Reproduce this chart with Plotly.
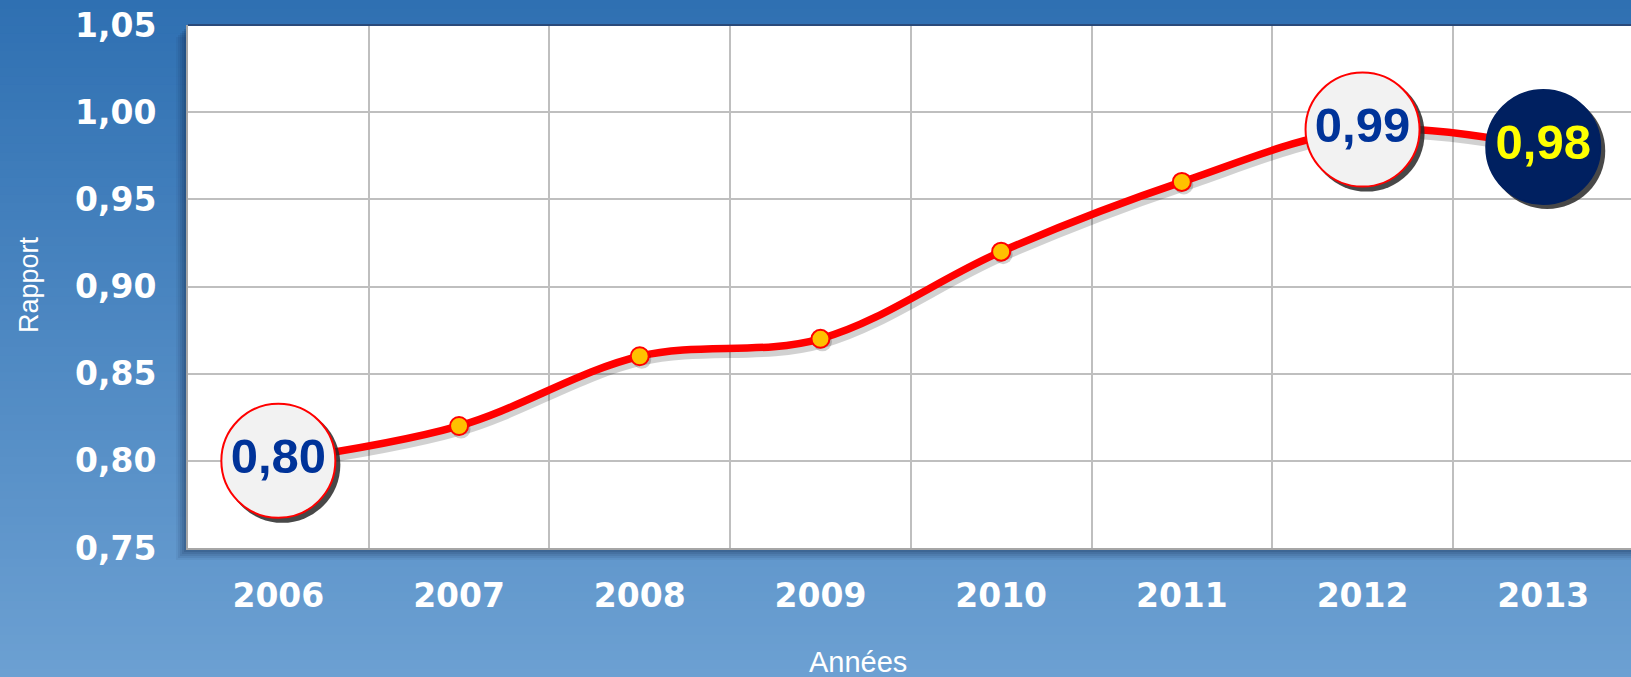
import plotly.graph_objects as go

years = ["2006", "2007", "2008", "2009", "2010", "2011", "2012", "2013"]
ratio = [0.80, 0.82, 0.86, 0.87, 0.92, 0.96, 0.99, 0.98]
bubble_idx = [0, 6, 7]          # points shown with a big value bubble
y_ticks = [0.75, 0.80, 0.85, 0.90, 0.95, 1.00, 1.05]

W, H = 1631, 677
ML, MR, MT, MB = 188, 0, 25, 129
PW, PH = W - ML - MR, H - MT - MB
CAT_W = 180.7
YMIN, YMAX = 0.75, 1.05
px_per_y = PH / (YMAX - YMIN)

x = list(range(len(years)))
fig = go.Figure()

# line shadow
fig.add_trace(go.Scatter(
    x=[i + 1.5 / CAT_W for i in x], y=[v - 5 / px_per_y for v in ratio],
    mode="lines", line=dict(color="rgba(0,0,0,0.18)", width=9, shape="spline", smoothing=1.0),
    hoverinfo="skip", showlegend=False))
# main line
fig.add_trace(go.Scatter(
    x=x, y=ratio, mode="lines",
    line=dict(color="#FF0000", width=7.5, shape="spline", smoothing=1.0),
    showlegend=False))
# small markers (with slight shadow)
mid = [i for i in x if i not in bubble_idx]
fig.add_trace(go.Scatter(
    x=[i + 2 / CAT_W for i in mid], y=[ratio[i] - 3 / px_per_y for i in mid], mode="markers",
    marker=dict(size=19, color="rgba(0,0,0,0.18)", line=dict(width=0)),
    hoverinfo="skip", showlegend=False))
fig.add_trace(go.Scatter(
    x=mid, y=[ratio[i] for i in mid], mode="markers",
    marker=dict(size=18, color="#FFC000", line=dict(color="#FF0000", width=2)),
    showlegend=False))

# bubble shadows
fig.add_trace(go.Scatter(
    x=[i + 4 / CAT_W for i in bubble_idx], y=[ratio[i] - 4 / px_per_y for i in bubble_idx],
    mode="markers", marker=dict(size=116, color="rgba(40,40,40,0.85)", line=dict(width=0)),
    hoverinfo="skip", showlegend=False))
fill_cols = ["#F2F2F2" if i != len(years) - 1 else "#002060" for i in bubble_idx]
edge_cols = ["#FF0000" if i != len(years) - 1 else "#002060" for i in bubble_idx]
txt_cols = ["#003399" if i != len(years) - 1 else "#FFFF00" for i in bubble_idx]
fig.add_trace(go.Scatter(
    x=bubble_idx, y=[ratio[i] for i in bubble_idx], mode="markers+text",
    marker=dict(size=114, color=fill_cols, line=dict(color=edge_cols, width=2)),
    text=[f"{ratio[i]:.2f}".replace(".", ",") for i in bubble_idx],
    textposition="middle center",
    textfont=dict(family="Liberation Sans", size=49, color=txt_cols, weight="bold"),
    showlegend=False))

# background gradient strips
shapes = []
top = (47, 112, 178)
bot = (108, 160, 210)
N = 80
y_lo = -MB / PH
y_hi = 1 + MT / PH
for k in range(N):
    t = k / (N - 1)
    c = tuple(round(top[j] + (bot[j] - top[j]) * t) for j in range(3))
    shapes.append(dict(type="rect", xref="paper", yref="paper", layer="below",
                       x0=-ML / PW, x1=1.01,
                       y0=y_hi - (k + 1) * (y_hi - y_lo) / N - 0.002,
                       y1=y_hi - k * (y_hi - y_lo) / N,
                       fillcolor="rgb(%d,%d,%d)" % c, line=dict(width=0)))
# plot area drop shadow
for off, op in [(12, 0.06), (10, 0.08), (8, 0.09), (6, 0.11), (4, 0.13), (2, 0.15)]:
    shapes.append(dict(type="rect", xref="paper", yref="paper", layer="below",
                       x0=-off / PW, x1=1.0, y0=-off / PH, y1=1 - off / PH,
                       fillcolor="rgba(10,30,60,%f)" % op, line=dict(width=0)))
# white plot area
shapes.append(dict(type="rect", xref="paper", yref="paper", layer="below",
                   x0=0, x1=1.01, y0=0, y1=1, fillcolor="white", line=dict(width=0)))
# top dark border
shapes.append(dict(type="line", xref="paper", yref="paper", layer="above",
                   x0=0, x1=1.01, y0=1, y1=1, line=dict(color="#2A4A7A", width=2)))
fig.update_layout(shapes=shapes)

fig.update_xaxes(
    range=[-0.5, -0.5 + PW / CAT_W], tickmode="array", tickvals=x, ticktext=years,
    showgrid=False, zeroline=False, ticks="",
    tickfont=dict(family="DejaVu Sans", size=33, color="white", weight="bold"),
    ticklabelstandoff=17,
    minor=dict(tick0=0.5, dtick=1, showgrid=True, gridcolor="#BFBFBF", gridwidth=1.5, ticks=""),
    showline=True, linecolor="#A6A6A6", linewidth=2)
fig.update_yaxes(
    range=[YMIN, YMAX], tickmode="array", tickvals=y_ticks,
    ticktext=[f"{v:.2f}".replace(".", ",") for v in y_ticks],
    showgrid=True, gridcolor="#BFBFBF", gridwidth=1.5, zeroline=False, ticks="",
    tickfont=dict(family="DejaVu Sans", size=33, color="white", weight="bold"),
    ticklabelstandoff=23,
    showline=True, linecolor="#A6A6A6", linewidth=2)

fig.update_layout(
    width=W, height=H, margin=dict(l=ML, r=MR, t=MT, b=MB, pad=0),
    paper_bgcolor="#4A86C4", plot_bgcolor="rgba(0,0,0,0)",
    showlegend=False,
    annotations=[
        dict(text="Rapport", xref="paper", yref="paper", x=(29 - ML) / PW, y=(MT + PH - 285) / PH,
             xanchor="center", yanchor="middle", textangle=-90, showarrow=False,
             font=dict(family="Liberation Sans", size=27, color="white")),
        dict(text="Années", xref="paper", yref="paper", x=(858 - ML) / PW, y=(MT + PH - 662) / PH,
             xanchor="center", yanchor="middle", showarrow=False,
             font=dict(family="Liberation Sans", size=29, color="white")),
    ])

fig.write_html("out.html", config={"displayModeBar": False},
               post_script="document.body.style.margin='0';document.body.style.overflow='hidden';")
